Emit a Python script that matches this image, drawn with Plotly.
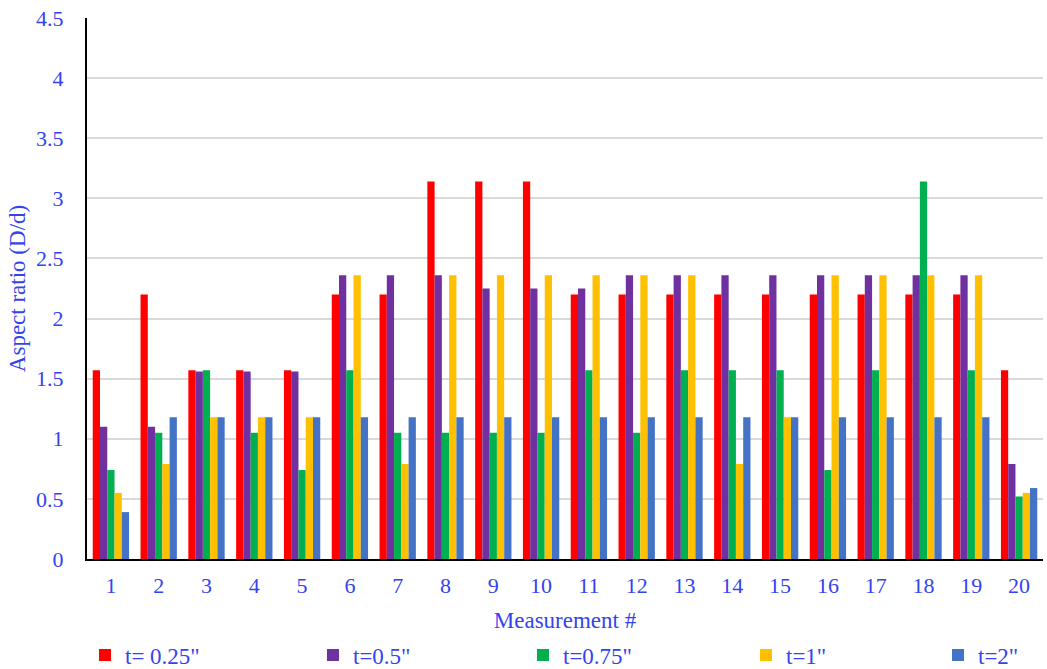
import plotly.graph_objects as go

categories = [str(i) for i in range(1, 21)]
series_names = ['t= 0.25"', 't=0.5"', 't=0.75"', 't=1"', 't=2"']
colors = ["#FF0000", "#7030A0", "#00B050", "#FFC000", "#4472C4"]

t025 = [1.57, 2.20, 1.57, 1.57, 1.57, 2.20, 2.20, 3.14, 3.14, 3.14,
        2.20, 2.20, 2.20, 2.20, 2.20, 2.20, 2.20, 2.20, 2.20, 1.57]
t05 = [1.10, 1.10, 1.56, 1.56, 1.56, 2.36, 2.36, 2.36, 2.25, 2.25,
       2.25, 2.36, 2.36, 2.36, 2.36, 2.36, 2.36, 2.36, 2.36, 0.79]
t075 = [0.74, 1.05, 1.57, 1.05, 0.74, 1.57, 1.05, 1.05, 1.05, 1.05,
        1.57, 1.05, 1.57, 1.57, 1.57, 0.74, 1.57, 3.14, 1.57, 0.52]
t1 = [0.55, 0.79, 1.18, 1.18, 1.18, 2.36, 0.79, 2.36, 2.36, 2.36,
      2.36, 2.36, 2.36, 0.79, 1.18, 2.36, 2.36, 2.36, 2.36, 0.55]
t2 = [0.39, 1.18, 1.18, 1.18, 1.18, 1.18, 1.18, 1.18, 1.18, 1.18,
      1.18, 1.18, 1.18, 1.18, 1.18, 1.18, 1.18, 1.18, 1.18, 0.59]

y_ticks = [0, 0.5, 1, 1.5, 2, 2.5, 3, 3.5, 4, 4.5]
y_ticktext = ["0", "0.5", "1", "1.5", "2", "2.5", "3", "3.5", "4", "4.5"]

blue_txt = "#3344EE"
font_family = "Liberation Serif, Times New Roman, serif"

W, H = 1047, 669
legend_ids = ["legend2", "legend3", "legend4", "legend5", "legend6"]
legend_left_px = [85, 313, 523, 746, 938]

fig = go.Figure()
for name, vals, col, lid in zip(series_names, [t025, t05, t075, t1, t2], colors, legend_ids):
    fig.add_trace(go.Bar(x=categories, y=vals, name=name, legend=lid,
                         marker=dict(color=col, line=dict(width=0))))

legend_common = dict(
    xref="container", yref="container", xanchor="left", yanchor="middle",
    y=1 - 655 / H, orientation="h", bgcolor="rgba(0,0,0,0)",
    font=dict(size=23, color=blue_txt, family=font_family), itemwidth=30,
)
legends = {lid: dict(legend_common, x=px / W) for lid, px in zip(legend_ids, legend_left_px)}

fig.update_layout(
    width=W, height=H,
    barmode="group", bargap=0.24, bargroupgap=0,
    plot_bgcolor="white", paper_bgcolor="white",
    margin=dict(l=87, r=4, t=18, b=110, autoexpand=False),
    font=dict(family=font_family, color=blue_txt, size=22),
    xaxis=dict(
        title=dict(text="Measurement #", font=dict(size=23, color=blue_txt), standoff=14),
        showline=True, linecolor="black", linewidth=2,
        ticks="", tickfont=dict(size=22, color=blue_txt),
        ticklabelstandoff=6,
        showgrid=False, automargin=False,
    ),
    yaxis=dict(
        title=dict(text="Aspect ratio (D/d)", font=dict(size=23, color=blue_txt), standoff=4),
        range=[0, 4.5], tickvals=y_ticks, ticktext=y_ticktext,
        showline=True, linecolor="black", linewidth=2,
        gridcolor="#D9D9D9", gridwidth=1.5,
        ticks="", tickfont=dict(size=22, color=blue_txt),
        ticklabelstandoff=17, ticklabeloverflow="allow",
        zeroline=False, automargin=False,
    ),
    **legends,
)

fig.write_html("out.html", config={"displayModeBar": False},
               post_script="document.body.style.margin='0';")
